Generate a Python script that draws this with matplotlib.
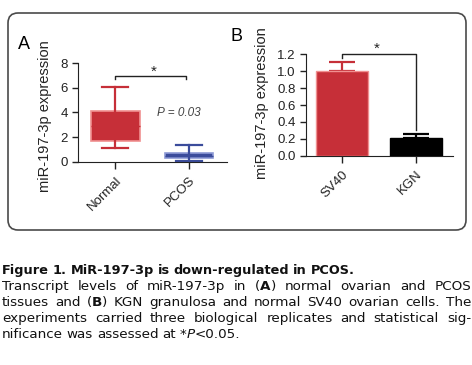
import matplotlib
matplotlib.use('Agg')
import matplotlib.pyplot as plt
from matplotlib.patches import FancyBboxPatch

plt.rcParams['font.family'] = ['Liberation Sans', 'DejaVu Sans']

# panel A: tissue box plot summary
tissue_groups = ['Normal', 'PCOS']
tissue_whislo = [1.1, 0.08]
tissue_q1 = [1.7, 0.28]
tissue_med = [2.9, 0.5]
tissue_q3 = [4.1, 0.73]
tissue_whishi = [6.05, 1.33]
tissue_colors = ['#c62f38', '#3b4c9b']
tissue_edges = ['#f09090', '#8e9bd6']
p_label = 'P = 0.03'

# panel B: cell line bars
cell_lines = ['SV40', 'KGN']
cell_mean = [1.0, 0.21]
cell_err = [0.11, 0.045]
cell_colors = ['#c62f38', '#000000']
cell_edges = ['#f09090', '#000000']
cell_yticks = [0.0, 0.2, 0.4, 0.6, 0.8, 1.0, 1.2]

ylab = 'miR-197-3p expression'

# caption, [..] = bold, _.._ = italic
caption = [
    '[Figure 1. MiR-197-3p is down-regulated in PCOS.]',
    'Transcript levels of miR-197-3p in ([A]) normal ovarian and PCOS',
    'tissues and ([B]) KGN granulosa and normal SV40 ovarian cells. The',
    'experiments carried three biological replicates and statistical sig-',
    'nificance was assessed at *_P_<0.05.',
]
justified = [False, True, True, True, False]
cap_sizes = [9.3, 9.7, 9.7, 9.7, 9.7]

W, H = 472, 365
fig = plt.figure(figsize=(W / 100, H / 100), dpi=100)

# pixel overlay for frame, letters, captions
ov = fig.add_axes([0, 0, 1, 1], zorder=-1)
ov.set_xlim(0, W)
ov.set_ylim(H, 0)
ov.axis('off')
ov.add_patch(FancyBboxPatch((8, 13), 458, 217, boxstyle='round,pad=0,rounding_size=10',
                            fc='none', ec='#4a4a4a', lw=1.2))
ov.text(18, 49, 'A', fontsize=13, ha='left', va='baseline')
ov.text(231, 41, 'B', fontsize=13, ha='left', va='baseline')
ov.text(45, 116, ylab, rotation=90, fontsize=10.5, ha='center', va='center', color='#222')
ov.text(262, 103, ylab, rotation=90, fontsize=10.5, ha='center', va='center', color='#222')

tick_kw = dict(labelsize=9.5, width=1, colors='#222', direction='out')

# ---- A ----
axA = fig.add_axes([78 / W, 1 - 161.7 / H, 149 / W, 98.4 / H])
stats = []
for i in range(len(tissue_groups)):
    stats.append({'whislo': tissue_whislo[i], 'q1': tissue_q1[i], 'med': tissue_med[i],
                  'q3': tissue_q3[i], 'whishi': tissue_whishi[i], 'fliers': []})
bp = axA.bxp(stats, positions=[0, 1], widths=0.66, patch_artist=True,
             showfliers=False, capwidths=0.35)
for i, c in enumerate(tissue_colors):
    bp['boxes'][i].set_facecolor(c)
    bp['boxes'][i].set_edgecolor(tissue_edges[i])
    bp['boxes'][i].set_linewidth(1.2)
    bp['medians'][i].set_color(c)
    for ln in bp['whiskers'][2 * i:2 * i + 2] + bp['caps'][2 * i:2 * i + 2]:
        ln.set_color(c)
        ln.set_linewidth(1.6)
axA.set_xlim(-0.506, 1.516)
axA.set_ylim(0, 8)
axA.set_yticks([0, 2, 4, 6, 8])
axA.set_xticks([0, 1])
axA.set_xticklabels(tissue_groups, rotation=45, ha='right', rotation_mode='anchor')
axA.tick_params(axis='y', length=4, **tick_kw)
axA.tick_params(axis='x', length=5, pad=4, **tick_kw)
for s in ['top', 'right']:
    axA.spines[s].set_visible(False)
for s in ['left', 'bottom']:
    axA.spines[s].set_color('#222')
axA.plot([0, 0, 0.96, 0.96], [6.7, 6.97, 6.97, 6.7], color='#222', lw=1, clip_on=False)
axA.text(0.52, 7.35, '*', fontsize=11, ha='center', va='center', color='#222')
axA.text(0.56, 3.93, p_label, fontsize=8.5, style='italic', ha='left', va='center', color='#444')

# ---- B ----
axB = fig.add_axes([306 / W, 1 - 155.7 / H, 147 / W, 101.4 / H])
xs = list(range(len(cell_lines)))
axB.bar(xs, cell_mean, width=0.69, color=cell_colors, edgecolor=cell_edges, lw=1, zorder=3)
for i in xs:
    axB.errorbar([i], [cell_mean[i]], yerr=[[0], [cell_err[i]]], fmt='none',
                 ecolor=cell_colors[i], elinewidth=1.6, capthick=1.6, capsize=9.4, zorder=2)
axB.set_xlim(-0.486, 1.5)
axB.set_ylim(0, 1.2)
axB.set_yticks(cell_yticks)
axB.set_yticklabels(['%.1f' % v for v in cell_yticks])
axB.set_xticks(xs)
axB.set_xticklabels(cell_lines, rotation=45, ha='right', rotation_mode='anchor')
axB.tick_params(axis='y', length=4, **tick_kw)
axB.tick_params(axis='x', length=5, pad=4, **tick_kw)
for s in ['top', 'right']:
    axB.spines[s].set_visible(False)
for s in ['left', 'bottom']:
    axB.spines[s].set_color('#222')
axB.plot([0, 0, 1, 1], [1.16, 1.2, 1.2, 0.31], color='#222', lw=1, clip_on=False)
axB.text(0.47, 1.27, '*', fontsize=11, ha='center', va='center', color='#222')


# ---- caption ----
def parse(line):
    segs = []
    bold = italic = False
    buf = ''
    for ch in line:
        if ch in '[]_':
            if buf:
                segs.append((buf, bold, italic))
                buf = ''
            if ch == '[':
                bold = True
            elif ch == ']':
                bold = False
            else:
                italic = not italic
        else:
            buf += ch
    if buf:
        segs.append((buf, bold, italic))
    words = [[]]
    for txt, b, it in segs:
        for k, part in enumerate(txt.split(' ')):
            if k > 0:
                words.append([])
            if part:
                words[-1].append((part, b, it))
    return [w for w in words if w]


renderer = fig.canvas.get_renderer()
cap_font = ['DejaVu Sans']
x0, x1 = 2, 471
base = 274
for li, line in enumerate(caption):
    words = parse(line)
    arts = []
    widths = []
    for w in words:
        ws = []
        for txt, b, it in w:
            t = ov.text(0, base, txt, fontsize=cap_sizes[li], family=cap_font,
                        ha='left', va='baseline',
                        fontweight='bold' if b else 'normal',
                        style='italic' if it else 'normal', color='#111')
            ws.append(t)
        arts.append(ws)
        widths.append([t.get_window_extent(renderer).width for t in ws])
    total = sum(sum(w) for w in widths)
    if justified[li] and len(words) > 1:
        gap = (x1 - x0 - total) / (len(words) - 1)
    else:
        gap = 3.8
    x = x0
    for ws, wd in zip(arts, widths):
        for t, d in zip(ws, wd):
            t.set_x(x)
            x += d
        x += gap
    base += 16

fig.savefig('out.png', dpi=100)
